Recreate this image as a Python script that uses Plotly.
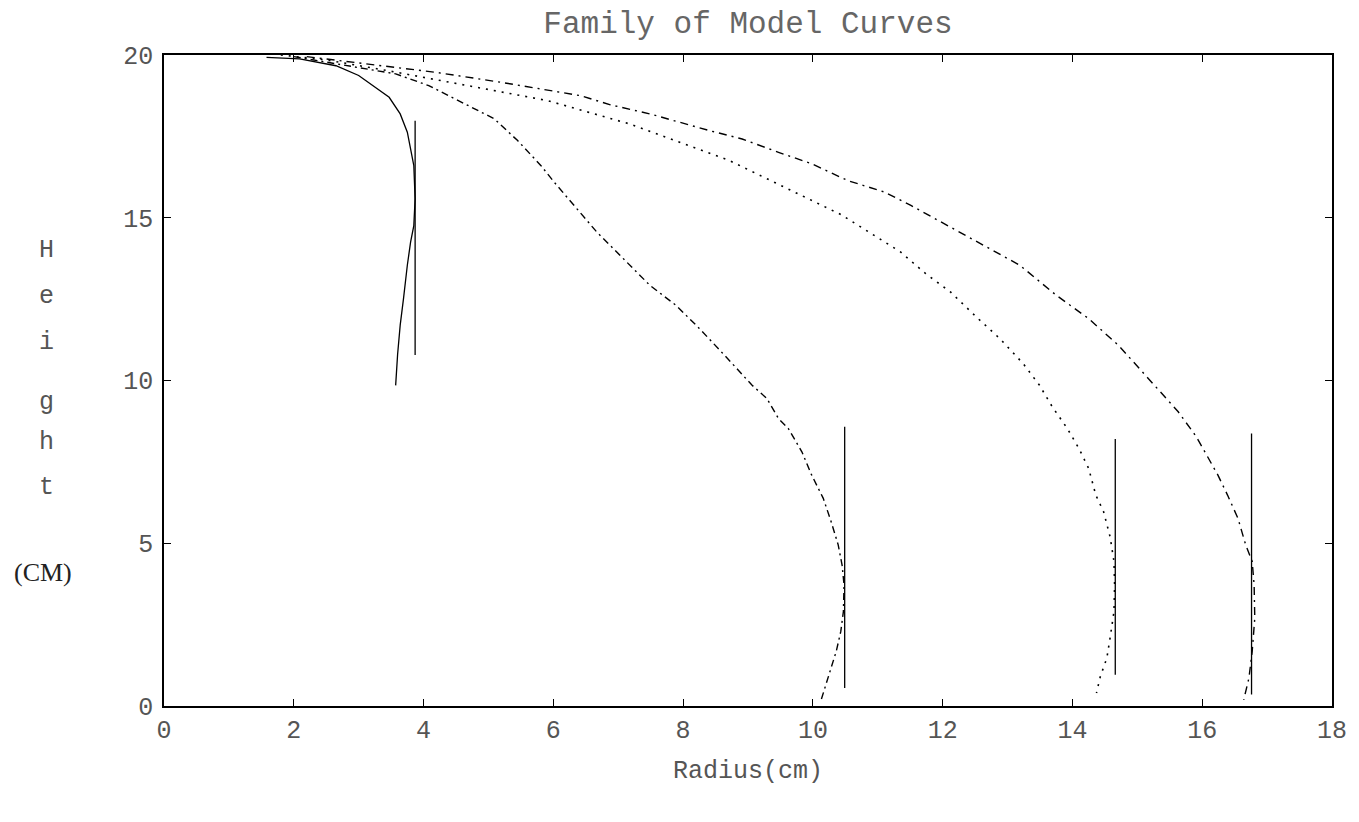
import plotly.graph_objects as go

# ---- data (cm) ----
c1_x = [1.58, 2.09, 2.65, 3.00, 3.47, 3.64, 3.75, 3.85, 3.87, 3.85, 3.80, 3.75, 3.69, 3.64, 3.60, 3.57]
c1_y = [19.93, 19.88, 19.67, 19.37, 18.70, 18.19, 17.63, 16.60, 15.58, 14.76, 14.25, 13.54, 12.50, 11.70, 10.80, 9.85]

c2_x = [2.00, 2.85, 3.57, 4.08, 4.69, 5.09, 5.45, 5.81, 6.01, 6.27, 6.67, 7.13, 7.49, 7.89, 8.25, 8.66,
        9.06, 9.29, 9.47, 9.62, 9.83, 9.98, 10.16, 10.28, 10.39, 10.45, 10.48, 10.47, 10.43, 10.36, 10.26, 10.16, 10.12]
c2_y = [19.95, 19.67, 19.42, 19.06, 18.45, 18.04, 17.37, 16.60, 16.10, 15.48, 14.56, 13.64, 12.92, 12.31, 11.60, 10.73,
        9.86, 9.45, 8.83, 8.53, 7.81, 7.10, 6.38, 5.67, 4.95, 4.33, 3.72, 2.90, 2.29, 1.68, 1.06, 0.45, 0.14]

c3_x = [1.80, 2.50, 3.50, 4.69, 5.91, 7.18, 8.71, 10.44, 10.95, 11.35, 11.74, 12.12, 12.52, 12.88, 13.24, 13.49,
        13.69, 13.92, 14.10, 14.25, 14.36, 14.48, 14.58, 14.64, 14.65, 14.64, 14.58, 14.53, 14.43, 14.37]
c3_y = [20.00, 19.85, 19.50, 19.06, 18.60, 17.88, 16.76, 15.09, 14.46, 13.95, 13.28, 12.72, 11.95, 11.29, 10.52, 9.86,
        9.19, 8.53, 7.91, 7.30, 6.48, 5.97, 5.20, 4.44, 3.72, 2.90, 2.09, 1.47, 0.91, 0.40]

c4_x = [2.20, 3.00, 4.18, 5.20, 6.42, 6.88, 7.49, 8.40, 8.91, 9.47, 9.98, 10.54, 11.10, 11.51, 12.12, 12.68, 13.19,
        13.75, 14.25, 14.71, 15.17, 15.63, 15.91, 16.04, 16.24, 16.39, 16.55, 16.67, 16.77, 16.80, 16.81, 16.77, 16.72, 16.64]
c4_y = [19.95, 19.75, 19.47, 19.16, 18.75, 18.47, 18.19, 17.68, 17.42, 17.01, 16.66, 16.14, 15.79, 15.38, 14.71, 14.10, 13.54,
        12.62, 11.90, 11.08, 10.06, 9.04, 8.27, 7.81, 7.10, 6.48, 5.77, 4.95, 4.44, 3.72, 2.70, 1.68, 0.86, 0.19]

# vertical reference lines: x, y_top, y_bottom
vline_x = [3.87, 10.49, 14.66, 16.76]
vline_top = [17.98, 8.58, 8.20, 8.37]
vline_bot = [10.78, 0.55, 0.96, 0.35]

x_ticks = [0, 2, 4, 6, 8, 10, 12, 14, 16, 18]
y_ticks = [0, 5, 10, 15, 20]

title_text = "Family of Model Curves"
x_title = "Radius(cm)"
y_letters = ["H", "e", "i", "g", "h", "t"]
y_unit = "(CM)"

# ---- figure ----
# page body has an 8px default margin; size the figure so the page never scrolls
W, H = 1351, 806
ML, MR, MT, MB = 156, 22, 47, 108
PW, PH = W - ML - MR, H - MT - MB
X0, Y0 = 8 + ML, 8 + H - MB   # page px of the axes origin

fig = go.Figure()
styles = [
    (c1_x, c1_y, "solid", 1.3),
    (c2_x, c2_y, "7px,4px,2px,4px", 1.4),
    (c3_x, c3_y, "2px,6px", 1.6),
    (c4_x, c4_y, "8px,5px,2px,5px", 1.4),
]
for xs, ys, dash, w in styles:
    fig.add_trace(go.Scatter(x=xs, y=ys, mode="lines",
                             line=dict(color="black", width=w, dash=dash),
                             showlegend=False, hoverinfo="skip"))
for vx, vt, vb in zip(vline_x, vline_top, vline_bot):
    fig.add_trace(go.Scatter(x=[vx, vx], y=[vt, vb], mode="lines",
                             line=dict(color="black", width=1.3),
                             showlegend=False, hoverinfo="skip"))

mono = "Liberation Mono, DejaVu Sans Mono, monospace"
tick_font = dict(family=mono, size=25, color="#555555")

fig.update_layout(
    width=W, height=H,
    margin=dict(l=ML, r=MR, t=MT, b=MB),
    paper_bgcolor="white", plot_bgcolor="white",
    title=dict(text=title_text, x=(748 - 8) / W, xanchor="center", y=1 - (22 - 8) / H, yanchor="middle",
               font=dict(family=mono, size=31, color="#666666")),
    xaxis=dict(range=[0, 18], tickmode="array", tickvals=x_ticks, ticktext=[str(v) for v in x_ticks],
               showgrid=False, zeroline=False, showline=True, linecolor="black", linewidth=1.5,
               mirror="ticks", ticks="inside", ticklen=7, tickcolor="black", tickwidth=1.2,
               tickfont=tick_font, ticklabeloverflow="allow",
               title=dict(text=x_title, font=dict(family=mono, size=25, color="#555555"), standoff=16)),
    yaxis=dict(range=[0, 20], tickmode="array", tickvals=y_ticks, ticktext=[str(v) for v in y_ticks],
               showgrid=False, zeroline=False, showline=True, linecolor="black", linewidth=1.5,
               mirror="ticks", ticks="inside", ticklen=7, tickcolor="black", tickwidth=1.2,
               tickfont=tick_font, ticklabelstandoff=4),
)

# screen positions (page px) of the stacked axis-title letters
letter_y_px = [250, 296, 342, 402, 442, 487]
for letter, py in zip(y_letters, letter_y_px):
    fig.add_annotation(text=letter, xref="paper", yref="paper",
                       x=(46 - X0) / PW, y=(Y0 - py) / PH, xanchor="center", yanchor="middle",
                       showarrow=False, font=dict(family=mono, size=25, color="#555555"))
fig.add_annotation(text=y_unit, xref="paper", yref="paper",
                   x=(42 - X0) / PW, y=(Y0 - 572) / PH, xanchor="center", yanchor="middle",
                   showarrow=False,
                   font=dict(family="Liberation Serif, DejaVu Serif, serif", size=26, color="#222222"))

fig.write_html("out.html")
